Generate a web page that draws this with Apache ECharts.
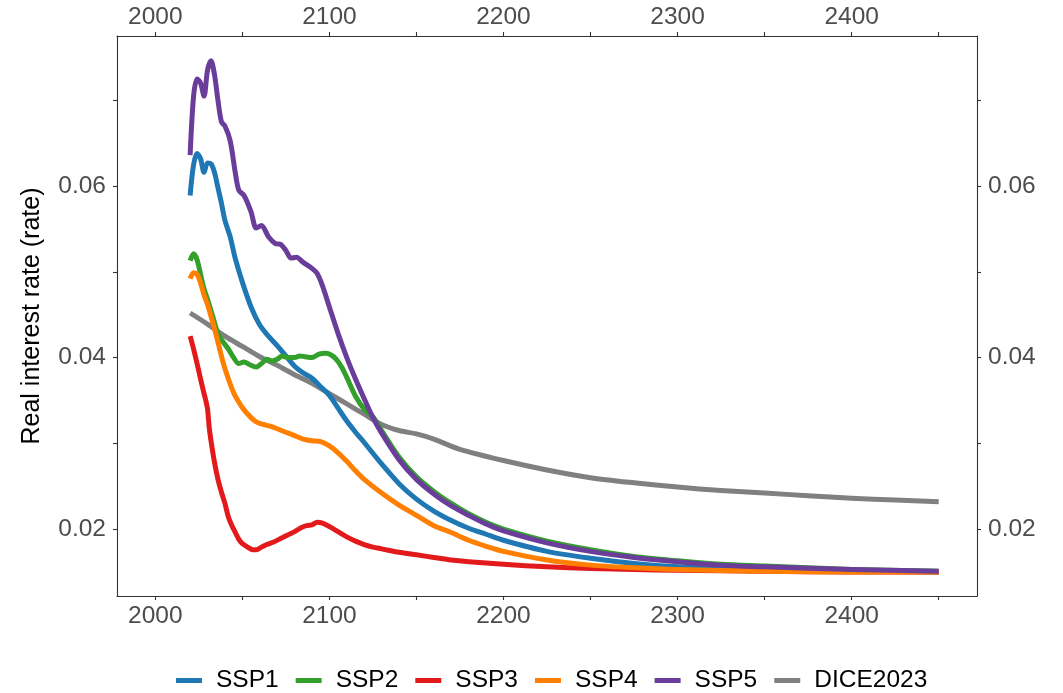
<!DOCTYPE html>
<html>
<head>
<meta charset="utf-8">
<title>Real interest rate by scenario</title>
<script src="https://cdn.jsdelivr.net/npm/echarts@6/dist/echarts.min.js"></script>
<style>
  html, body { margin: 0; padding: 0; background: #ffffff; }
  #chart { width: 1063px; height: 693px; }
</style>
</head>
<body>
<div id="chart"></div>
<script>
// Scenario names, in legend order
const seriesNames = ['SSP1', 'SSP2', 'SSP3', 'SSP4', 'SSP5', 'DICE2023'];
const seriesColors = ['#1f78b4', '#33a02c', '#e31a1c', '#ff7f00', '#6a3d9a', '#808080'];

// Axis ticks and labels
const xTicks = [2000, 2050, 2100, 2150, 2200, 2250, 2300, 2350, 2400, 2450];
const xLabels = [2000, 2100, 2200, 2300, 2400];
const yTicks = [0.02, 0.03, 0.04, 0.05, 0.06, 0.07];
const yLabels = [0.02, 0.04, 0.06];

// SSP1
const ssp1Years = [2020, 2022, 2024, 2026, 2028, 2030, 2032, 2034, 2036, 2038, 2040, 2043, 2046, 2050, 2055, 2060, 2065, 2070, 2075, 2080, 2085, 2090, 2095, 2100, 2105, 2110, 2115, 2120, 2130, 2140, 2150, 2160, 2170, 2180, 2190, 2200, 2225, 2250, 2275, 2300, 2325, 2350, 2400, 2450];
const ssp1Values = [0.0589, 0.0625, 0.0638, 0.0632, 0.0616, 0.0627, 0.0626, 0.0616, 0.0598, 0.0580, 0.0560, 0.0541, 0.0515, 0.0488, 0.0459, 0.0438, 0.0425, 0.0414, 0.0402, 0.0390, 0.0382, 0.0376, 0.0366, 0.0356, 0.0341, 0.0326, 0.0313, 0.0301, 0.0276, 0.0253, 0.0235, 0.0221, 0.0210, 0.0201, 0.0194, 0.0187, 0.0174, 0.0166, 0.0160, 0.0156, 0.0154, 0.0152, 0.0151, 0.0150];

// SSP2
const ssp2Years = [2020, 2022, 2024, 2026, 2028, 2030, 2033, 2036, 2039, 2042, 2045, 2048, 2051, 2054, 2058, 2061, 2064, 2067, 2070, 2073, 2076, 2080, 2083, 2086, 2090, 2094, 2098, 2101, 2104, 2107, 2110, 2115, 2120, 2125, 2130, 2140, 2150, 2160, 2170, 2180, 2190, 2200, 2225, 2250, 2275, 2300, 2325, 2350, 2400, 2450];
const ssp2Values = [0.0513, 0.0521, 0.0514, 0.0497, 0.0480, 0.0468, 0.0448, 0.0428, 0.0418, 0.0410, 0.0400, 0.0393, 0.0395, 0.0392, 0.0389, 0.0393, 0.0398, 0.0396, 0.0398, 0.0402, 0.0400, 0.0400, 0.0402, 0.0401, 0.0400, 0.0404, 0.0405, 0.0403, 0.0398, 0.0389, 0.0377, 0.0355, 0.0340, 0.0331, 0.0315, 0.0284, 0.0261, 0.0244, 0.0230, 0.0218, 0.0208, 0.0200, 0.0186, 0.0176, 0.0168, 0.0163, 0.0159, 0.0157, 0.0153, 0.0151];

// SSP3
const ssp3Years = [2020, 2022, 2024, 2026, 2028, 2029, 2030, 2031, 2032, 2034, 2036, 2038, 2040, 2042, 2044, 2046, 2048, 2050, 2053, 2056, 2058, 2061, 2064, 2068, 2072, 2076, 2080, 2084, 2087, 2090, 2093, 2096, 2100, 2105, 2110, 2115, 2120, 2125, 2130, 2140, 2150, 2160, 2170, 2180, 2200, 2225, 2250, 2275, 2300, 2350, 2400, 2450];
const ssp3Values = [0.0425, 0.0410, 0.0393, 0.0375, 0.0358, 0.0350, 0.0340, 0.0318, 0.0303, 0.0278, 0.0258, 0.0243, 0.0230, 0.0214, 0.0204, 0.0196, 0.0188, 0.0183, 0.0179, 0.0176, 0.0176, 0.0179, 0.0182, 0.0185, 0.0189, 0.0193, 0.0197, 0.0202, 0.0204, 0.0205, 0.0208, 0.0207, 0.0203, 0.0197, 0.0191, 0.0186, 0.0182, 0.0179, 0.0177, 0.0173, 0.0170, 0.0167, 0.0164, 0.0162, 0.0159, 0.0156, 0.0154, 0.0153, 0.0152, 0.0151, 0.0150, 0.0150];

// SSP4
const ssp4Years = [2020, 2022, 2024, 2026, 2028, 2030, 2033, 2036, 2039, 2042, 2045, 2048, 2051, 2055, 2058, 2062, 2066, 2070, 2075, 2080, 2085, 2090, 2095, 2100, 2105, 2110, 2115, 2120, 2130, 2140, 2150, 2160, 2170, 2180, 2190, 2200, 2225, 2250, 2275, 2300, 2350, 2400, 2450];
const ssp4Values = [0.0492, 0.0499, 0.0497, 0.0487, 0.0473, 0.0462, 0.0441, 0.0418, 0.0394, 0.0375, 0.0359, 0.0348, 0.0339, 0.0330, 0.0325, 0.0322, 0.0320, 0.0317, 0.0313, 0.0309, 0.0305, 0.0303, 0.0302, 0.0297, 0.0289, 0.0279, 0.0268, 0.0258, 0.0242, 0.0228, 0.0216, 0.0204, 0.0196, 0.0187, 0.0180, 0.0174, 0.0164, 0.0158, 0.0155, 0.0153, 0.0151, 0.0150, 0.0150];

// SSP5
const ssp5Years = [2020, 2022, 2024, 2026, 2028, 2030, 2032, 2034, 2036, 2038, 2040, 2043, 2046, 2048, 2051, 2055, 2058, 2061, 2065, 2069, 2072, 2075, 2078, 2081, 2085, 2090, 2093, 2096, 2100, 2105, 2110, 2115, 2120, 2125, 2130, 2140, 2150, 2160, 2170, 2180, 2190, 2200, 2225, 2250, 2275, 2300, 2325, 2350, 2400, 2450];
const ssp5Values = [0.0636, 0.0705, 0.0725, 0.0720, 0.0705, 0.0735, 0.0746, 0.0730, 0.0700, 0.0675, 0.0670, 0.0653, 0.0615, 0.0595, 0.0589, 0.0570, 0.0551, 0.0554, 0.0541, 0.0533, 0.0532, 0.0525, 0.0516, 0.0517, 0.0511, 0.0504, 0.0498, 0.0484, 0.0459, 0.0428, 0.0400, 0.0375, 0.0352, 0.0330, 0.0312, 0.0281, 0.0258, 0.0241, 0.0227, 0.0216, 0.0206, 0.0198, 0.0184, 0.0174, 0.0167, 0.0162, 0.0158, 0.0156, 0.0153, 0.0151];

// DICE2023
const diceYears = [2020, 2030, 2040, 2050, 2060, 2070, 2080, 2090, 2100, 2110, 2120, 2130, 2140, 2150, 2160, 2175, 2200, 2225, 2250, 2275, 2300, 2325, 2350, 2375, 2400, 2425, 2450];
const diceValues = [0.0452, 0.0439, 0.0425, 0.0413, 0.0401, 0.0391, 0.0380, 0.0370, 0.0358, 0.0346, 0.0334, 0.0322, 0.0315, 0.0311, 0.0305, 0.0293, 0.0280, 0.0269, 0.0260, 0.0254, 0.0249, 0.0245, 0.0242, 0.0239, 0.0236, 0.0234, 0.0232];

const seriesYears = [ssp1Years, ssp2Years, ssp3Years, ssp4Years, ssp5Years, diceYears];
const seriesValues = [ssp1Values, ssp2Values, ssp3Values, ssp4Values, ssp5Values, diceValues];

const FONT = "'Liberation Sans', Arial, Helvetica, sans-serif";
const AXIS_COLOR = '#333333';
const LABEL_COLOR = '#4d4d4d';

function xAxisDef(position, margin) {
  return {
    type: 'value',
    position: position,
    min: 1978,
    max: 2472,
    axisLine: { show: true, onZero: false, lineStyle: { color: AXIS_COLOR, width: 1.1 } },
    axisTick: { show: true, length: 4, customValues: xTicks, lineStyle: { color: AXIS_COLOR, width: 1.1 } },
    axisLabel: {
      customValues: xLabels, color: LABEL_COLOR, fontSize: 24.5, fontFamily: FONT, margin: margin,
      formatter: function (v) { return String(v); }
    },
    splitLine: { show: false }
  };
}

function yAxisDef(position, withName) {
  const def = {
    type: 'value',
    position: position,
    min: 0.0122,
    max: 0.0775,
    axisLine: { show: true, onZero: false, lineStyle: { color: AXIS_COLOR, width: 1.1 } },
    axisTick: { show: true, length: 4, customValues: yTicks, lineStyle: { color: AXIS_COLOR, width: 1.1 } },
    axisLabel: {
      customValues: yLabels, color: LABEL_COLOR, fontSize: 24.5, fontFamily: FONT, margin: 11,
      formatter: function (v) { return v.toFixed(2); }
    },
    splitLine: { show: false }
  };
  if (withName) {
    def.name = 'Real interest rate (rate)';
    def.nameLocation = 'middle';
    def.nameGap = 72;
    def.nameTextStyle = { color: '#000000', fontSize: 25, fontFamily: FONT };
  }
  return def;
}

// DICE2023 is drawn underneath the SSP lines
const drawOrder = [5, 0, 1, 2, 3, 4];
const series = drawOrder.map(function (i) {
  return {
    name: seriesNames[i],
    type: 'line',
    xAxisIndex: 0,
    yAxisIndex: 0,
    data: seriesYears[i].map(function (yr, k) { return [yr, seriesValues[i][k]]; }),
    showSymbol: false,
    smooth: 0.3,
    z: 2 + drawOrder.indexOf(i),
    lineStyle: { color: seriesColors[i], width: 5, cap: 'butt', join: 'round' },
    itemStyle: { color: seriesColors[i] },
    emphasis: { disabled: true }
  };
});

const chart = echarts.init(document.getElementById('chart'), null, { renderer: 'canvas' });
chart.setOption({
  animation: false,
  backgroundColor: '#ffffff',
  textStyle: { fontFamily: FONT },
  grid: { left: 117, right: 86, top: 36, bottom: 97, outerBoundsMode: 'none' },
  xAxis: [xAxisDef('bottom', 8), xAxisDef('top', 6)],
  yAxis: [yAxisDef('left', true), yAxisDef('right', false)],
  legend: {
    data: seriesNames,
    left: 176,
    top: 668,
    padding: 0,
    icon: 'rect',
    itemWidth: 26,
    itemHeight: 5,
    itemGap: 17,
    selectedMode: false,
    textStyle: { color: '#000000', fontSize: 24.5, fontFamily: FONT, padding: [0, 0, 0, 9] }
  },
  series: series
});
</script>
</body>
</html>
